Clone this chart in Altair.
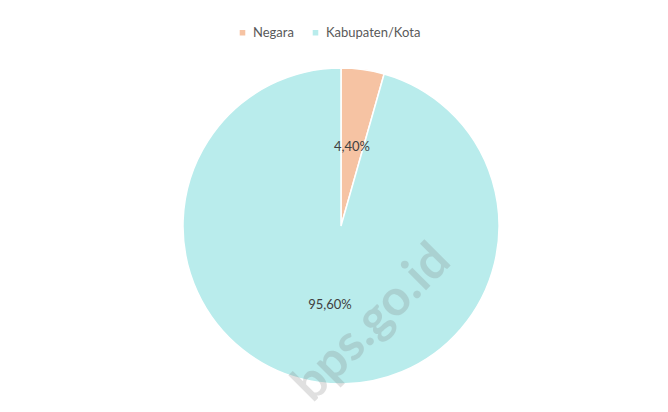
import altair as alt
import pandas as pd

categories = ["Negara", "Kabupaten/Kota"]
values = [4.40, 95.60]
labels = ["4,40%", "95,60%"]
colors = ["#f6c3a3", "#b9ecec"]

df = pd.DataFrame({"cat": categories, "val": values, "lab": labels, "ord": [0, 1]})

base = alt.Chart(df).encode(
    theta=alt.Theta("val:Q", stack=True),
    order=alt.Order("ord:Q"),
    x=alt.value(333),
    y=alt.value(218),
)

pie = base.mark_arc(outerRadius=158, stroke="white", strokeWidth=1.5).encode(
    color=alt.Color(
        "cat:N",
        scale=alt.Scale(domain=categories, range=colors),
        sort=categories,
        legend=alt.Legend(
            title=None, orient="none", direction="horizontal",
            legendX=228, legendY=18, symbolType="square", symbolSize=50,
            labelFont="Lato", labelFontSize=13, labelColor="#595959",
            columnPadding=14,
        ),
    )
)

text = base.mark_text(radius=80, font="Lato", fontSize=13, color="#404040").encode(
    text="lab:N"
)

wm = alt.Chart(pd.DataFrame({"t": ["bps.go.id"]})).mark_text(
    font="Lato", fontSize=50, fontWeight="bold", color="#777777", angle=315, opacity=0.22
).encode(text="t:N", x=alt.value(364), y=alt.value(315))

chart = alt.layer(pie, wm, text).properties(
    width=652, height=396, padding=0, background="white"
).configure_view(stroke=None)

chart.save("out.html", embed_options={"renderer": "svg", "actions": False})
